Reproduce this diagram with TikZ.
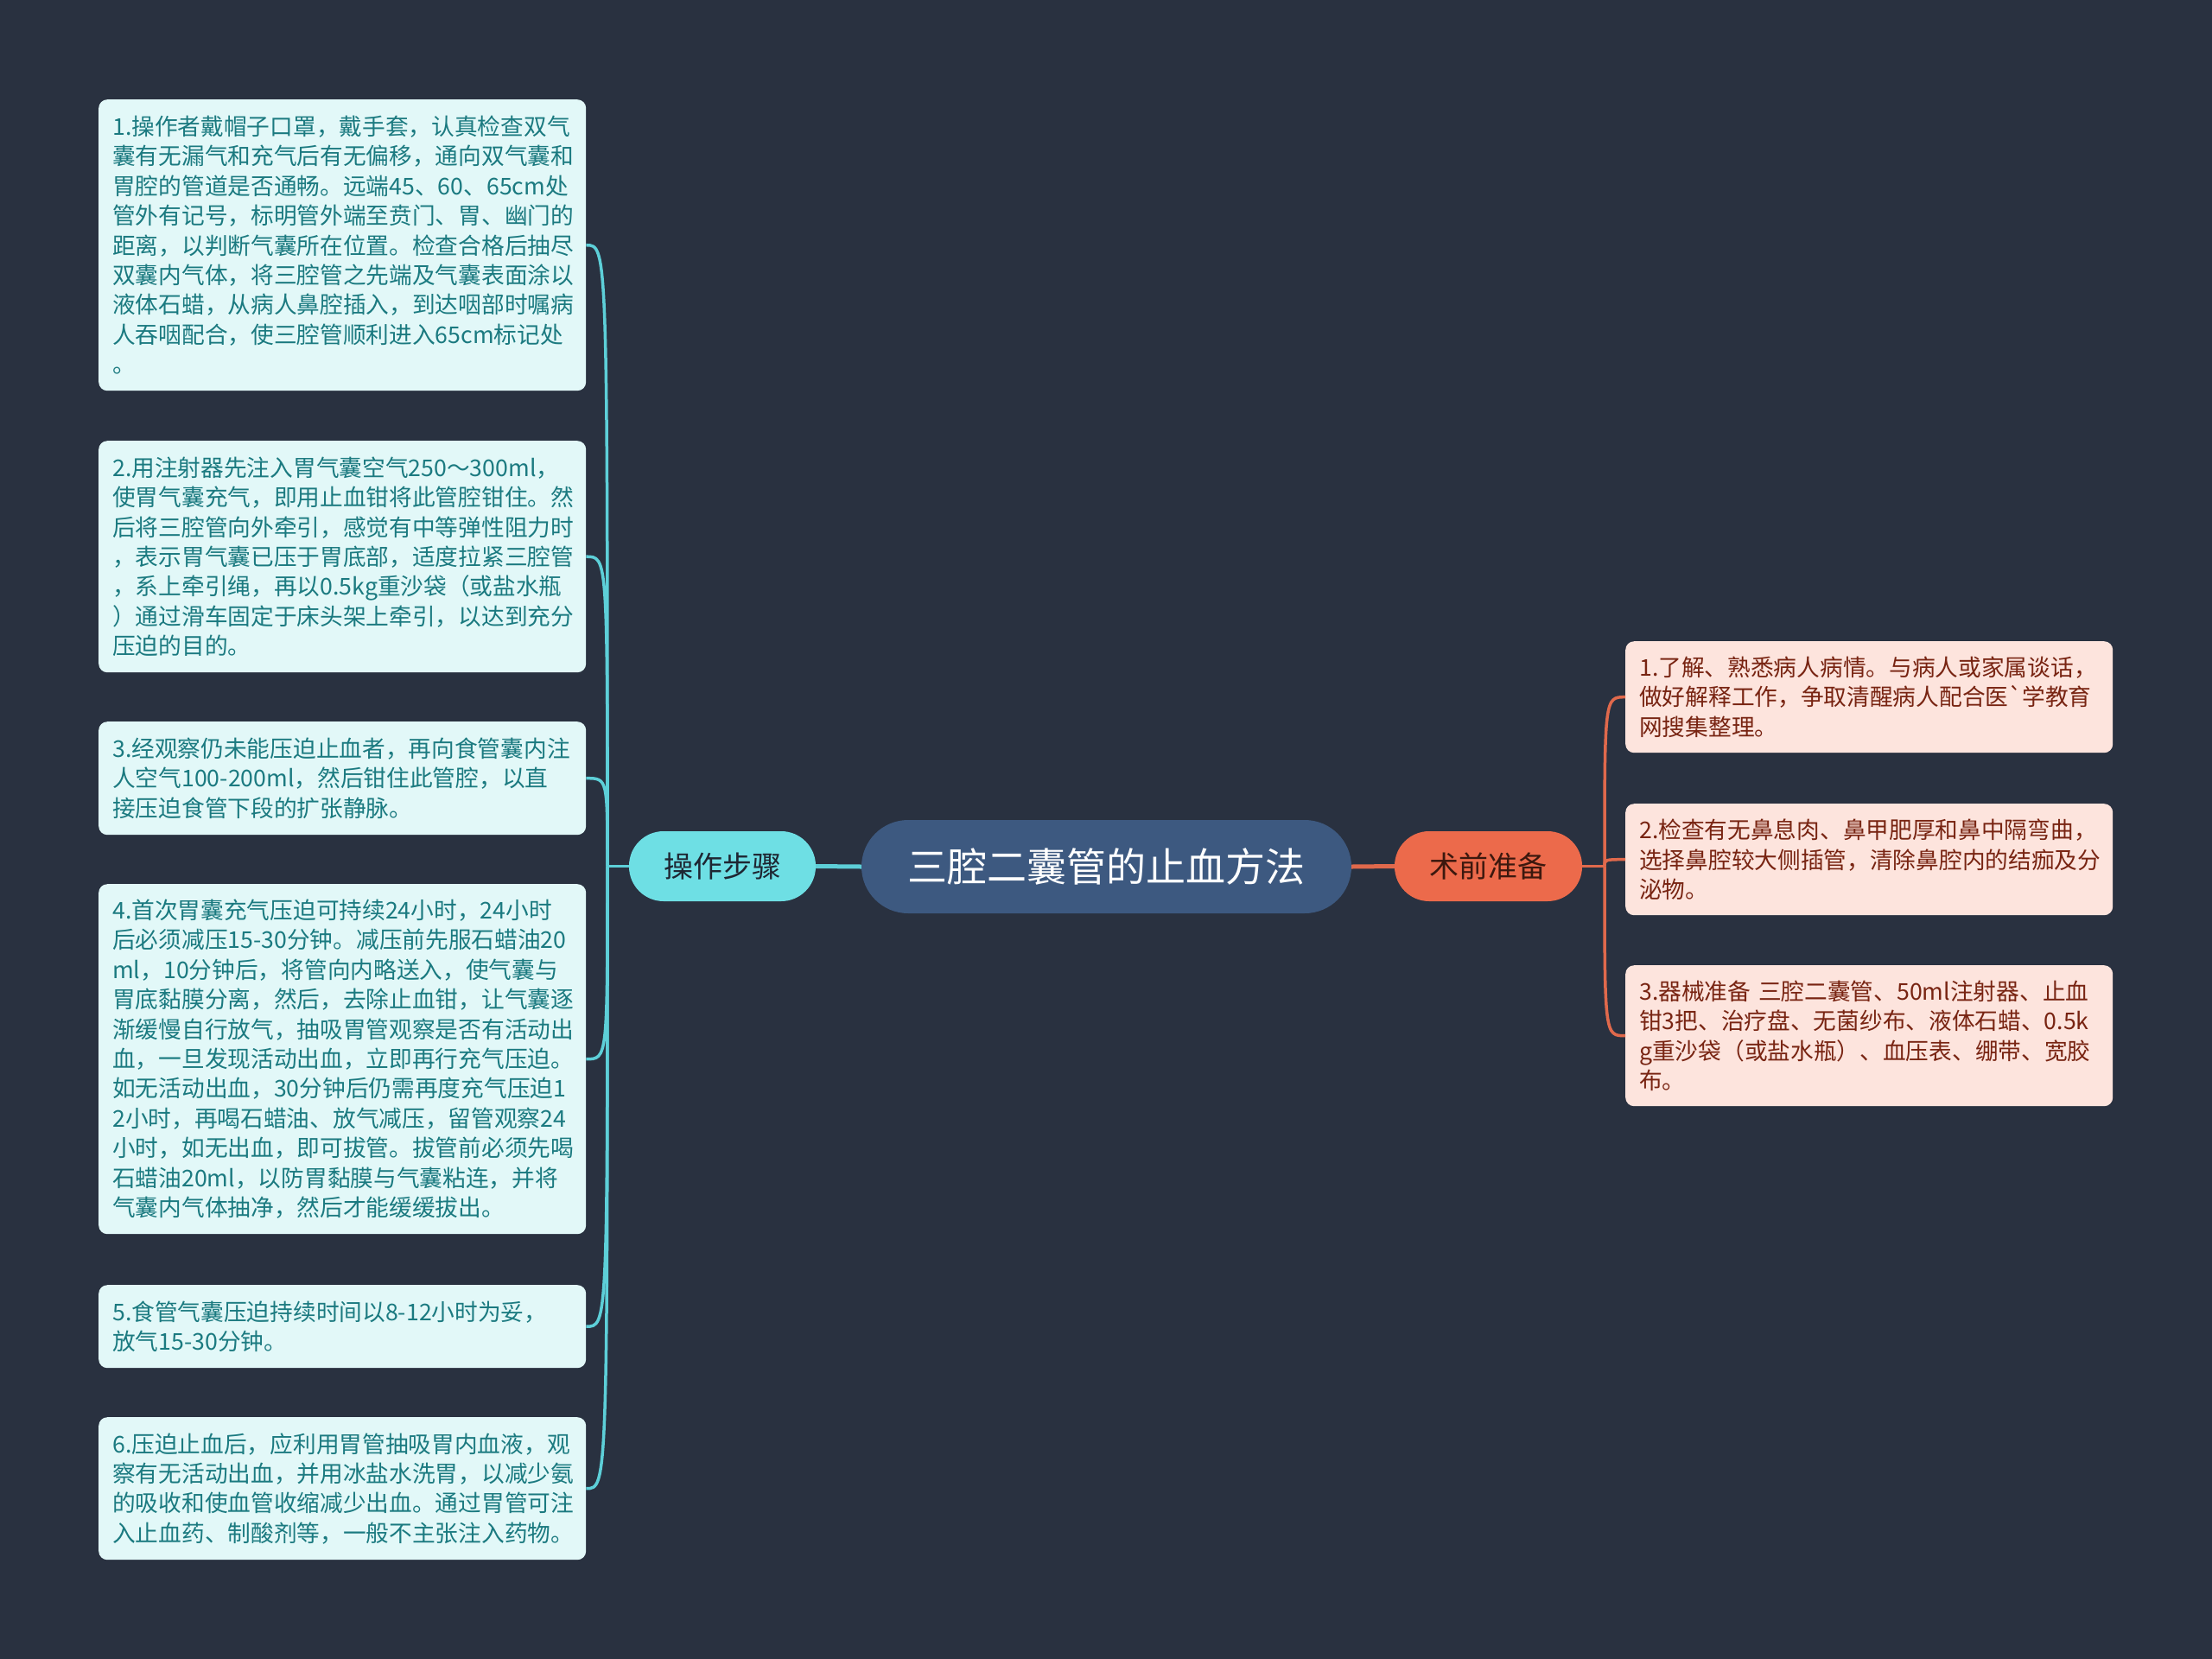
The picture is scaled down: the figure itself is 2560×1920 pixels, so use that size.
\documentclass[tikz,border=0pt]{standalone}
\usepackage{fontspec}
\setmainfont{Noto Sans CJK SC}
\newfontfamily\plainfont{Noto Sans CJK SC}
\definecolor{bgc}{RGB}{41,49,64}
\definecolor{rootc}{RGB}{61,89,128}
\definecolor{cyanmain}{RGB}{110,223,228}
\definecolor{cyanline}{RGB}{93,207,216}
\definecolor{lboxfill}{RGB}{226,248,248}
\definecolor{ltext}{RGB}{27,122,128}
\definecolor{orgmain}{RGB}{236,106,75}
\definecolor{orgline}{RGB}{224,105,76}
\definecolor{rboxfill}{RGB}{253,228,221}
\definecolor{rtext}{RGB}{120,36,18}
\definecolor{darktxt}{RGB}{30,38,50}
\definecolor{darkbrown}{RGB}{60,24,14}
\newcommand\boxfont{\fontsize{26.7pt}{34.4pt}\selectfont}
\tikzset{
  lbox/.style={fill=lboxfill, text=ltext, rounded corners=10pt, font=\boxfont,
    text width=532pt, inner xsep=16pt, inner ysep=0pt, align=left, anchor=north west},
  rbox/.style={fill=rboxfill, text=rtext, rounded corners=10pt, font=\boxfont,
    text width=532pt, inner xsep=16pt, inner ysep=0pt, align=left, anchor=north west},
  rootnode/.style={fill=rootc, text=white, rounded corners=54pt, minimum width=567pt,
    minimum height=108pt, inner sep=0pt, font=\fontsize{46pt}{52pt}\selectfont},
  mainL/.style={fill=cyanmain, text=darktxt, rounded corners=40pt, minimum width=216pt,
    minimum height=81pt, inner sep=0pt, font=\fontsize{34pt}{40pt}\selectfont},
  mainR/.style={fill=orgmain, text=darkbrown, rounded corners=40pt, minimum width=217pt,
    minimum height=81pt, inner sep=0pt, font=\fontsize{34pt}{40pt}\selectfont},
  lline/.style={draw=cyanline, line width=3.5pt},
  rline/.style={draw=orgline, line width=3.5pt},
}
\begin{document}
\begin{tikzpicture}[x=1pt,y=-1pt]
\fill[bgc] (0,0) rectangle (2560,1920);
\useasboundingbox (0,0) rectangle (2560,1920);

% main nodes
\node[rootnode] (root) at (1280.5,1003) {三腔二囊管的止血方法};
\node[mainL] (ml) at (836,1002.5) {操作步骤};
\node[mainR] (mr) at (1722.5,1002.5) {术前准备};

\coordinate (jl) at (703,1002.5);
\coordinate (jr) at (1857,1002.5);

% left boxes
\node[lbox, minimum height=337pt] (b1) at (114,115) {1.操作者戴帽子口罩，戴手套，认真检查双气\\囊有无漏气和充气后有无偏移，通向双气囊和\\胃腔的管道是否通畅。远端45、60、65cm处\\管外有记号，标明管外端至贲门、胃、幽门的\\距离，以判断气囊所在位置。检查合格后抽尽\\双囊内气体，将三腔管之先端及气囊表面涂以\\液体石蜡，从病人鼻腔插入，到达咽部时嘱病\\人吞咽配合，使三腔管顺利进入65cm标记处\\。};
\node[lbox, minimum height=268pt] (b2) at (114,510) {2.用注射器先注入胃气囊空气250～300ml，\\使胃气囊充气，即用止血钳将此管腔钳住。然\\后将三腔管向外牵引，感觉有中等弹性阻力时\\，表示胃气囊已压于胃底部，适度拉紧三腔管\\，系上牵引绳，再以0.5kg重沙袋（或盐水瓶\\）通过滑车固定于床头架上牵引，以达到充分\\压迫的目的。};
\node[lbox, minimum height=131pt] (b3) at (114,835) {3.经观察仍未能压迫止血者，再向食管囊内注\\人空气100-200ml，然后钳住此管腔，以直\\接压迫食管下段的扩张静脉。};
\node[lbox, minimum height=405pt] (b4) at (114,1023) {4.首次胃囊充气压迫可持续24小时，24小时\\后必须减压15-30分钟。减压前先服石蜡油20\\ml，10分钟后，将管向内略送入，使气囊与\\胃底黏膜分离，然后，去除止血钳，让气囊逐\\渐缓慢自行放气，抽吸胃管观察是否有活动出\\血，一旦发现活动出血，立即再行充气压迫。\\如无活动出血，30分钟后仍需再度充气压迫1\\2小时，再喝石蜡油、放气减压，留管观察24\\小时，如无出血，即可拔管。拔管前必须先喝\\石蜡油20ml，以防胃黏膜与气囊粘连，并将\\气囊内气体抽净，然后才能缓缓拔出。};
\node[lbox, minimum height=96pt] (b5) at (114,1487) {5.食管气囊压迫持续时间以8-12小时为妥，\\放气15-30分钟。};
\node[lbox, minimum height=165pt] (b6) at (114,1640) {6.压迫止血后，应利用胃管抽吸胃内血液，观\\察有无活动出血，并用冰盐水洗胃，以减少氨\\的吸收和使血管收缩减少出血。通过胃管可注\\入止血药、制酸剂等，一般不主张注入药物。};

% right boxes
\node[rbox, minimum height=129pt] (r1) at (1881,742) {1.了解、熟悉病人病情。与病人或家属谈话，\\做好解释工作，争取清醒病人配合医{\plainfont `}学教育\\网搜集整理。};
\node[rbox, minimum height=129pt] (r2) at (1881,930) {2.检查有无鼻息肉、鼻甲肥厚和鼻中隔弯曲，\\选择鼻腔较大侧插管，清除鼻腔内的结痂及分\\泌物。};
\node[rbox, minimum height=163pt] (r3) at (1881,1117) {3.器械准备~三腔二囊管、50ml注射器、止血\\钳3把、治疗盘、无菌纱布、液体石蜡、0.5k\\g重沙袋（或盐水瓶）、血压表、绷带、宽胶\\布。};

% connectors
\draw[draw=cyanline, line width=5pt] (root.west) -- (ml.east);
\draw[draw=orgline, line width=5pt] (root.east) -- (mr.west);
\draw[lline] (ml.west) -- (jl);
\draw[rline] (mr.east) -- (jr);
\foreach \b in {b1,b2,b3,b4,b5,b6}{
  \draw[lline] (jl) .. controls (jl |- \b.east) .. (\b.east);
}
\foreach \b in {r1,r2,r3}{
  \draw[rline] (jr) .. controls (jr |- \b.west) .. (\b.west);
}
\end{tikzpicture}
\end{document}
